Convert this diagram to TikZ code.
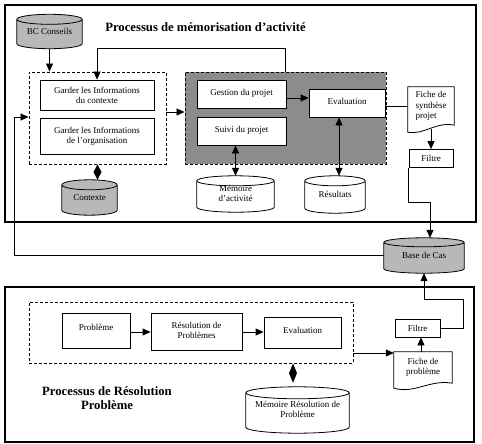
\documentclass[tikz,border=0pt]{standalone}
\usepackage{fontspec}
\setmainfont{Liberation Serif}
\usetikzlibrary{arrows.meta,calc,backgrounds}
\definecolor{boxgrey}{gray}{0.55}
\definecolor{cylgrey}{gray}{0.72}
\newcommand\smallfnt{\fontsize{9}{10}\selectfont}
\newcommand\titlefnt{\fontsize{12.7}{14}\selectfont\bfseries}
\newcommand\ml[1]{\begin{tabular}{@{}c@{}}#1\end{tabular}}
\newcommand\mll[1]{\begin{tabular}{@{}l@{}}#1\end{tabular}}
\newcommand\drawcyl[3]{%
  \draw[line width=0.8pt, fill=#2] let \p1=(#1.north west), \p2=(#1.south east), \n1={(\x2-\x1)/2} in
   (\x1,\y1-#3) -- (\x1,\y2+#3) arc[start angle=180,end angle=360,x radius=\n1,y radius=#3]
   -- (\x2,\y1-#3) arc[start angle=0,end angle=180,x radius=\n1,y radius=#3] -- cycle
   (\x1,\y1-#3) arc[start angle=180,end angle=360,x radius=\n1,y radius=#3];
}
\newcommand\drawdoc[3]{%
  \draw[line width=0.8pt] (#1.south east) -- (#1.north east) -- (#1.north west) -- ([yshift=-#2]#1.south west)
   .. controls ($(#1.south west)!0.35!(#1.south east)+(0pt,-#3)$) and ($(#1.south west)!0.62!(#1.south east)+(0pt,4pt)$) .. (#1.south east) -- cycle;
}
\begin{document}
\begin{tikzpicture}[x=1pt,y=-1pt,
  sz/.style 2 args={minimum width=#1pt, minimum height=#2pt},
  frame/.style={draw, line width=2.4pt, inner sep=0pt},
  box/.style={draw, line width=0.8pt, fill=white, inner sep=1pt, font=\smallfnt, align=center},
  dbox/.style={draw, line width=0.9pt, dash pattern=on 3pt off 2pt, inner sep=0pt},
  gbox/.style={dbox, fill=boxgrey},
  cyl/.style={inner sep=0pt, font=\smallfnt, align=center},
  doc/.style={inner sep=0pt, font=\smallfnt, align=center},
  title/.style={font=\titlefnt, align=center},
  line/.style={line width=0.8pt},
  arr/.style={line, -{Triangle[length=8pt,width=7pt]}},
  darr/.style={line, {Triangle[length=8pt,width=7pt]}-{Triangle[length=8pt,width=7pt]}}
]
\useasboundingbox (0,0) rectangle (482,444);
% frames
\node[frame, sz={471}{217}] (topf) at (240.5,113.5) {};
\node[frame, sz={469}{155}] (botf) at (239.5,364.5) {};
\node[title] (t1) at (205.5,27) {Processus de mémorisation d’activité};
% top part
\node[cyl, sz={65}{34}] (bc) at (49.5,31.5) {\raisebox{-5pt}{BC Conseils}};
\node[dbox, sz={137}{92}] (d1) at (97.5,118) {};
\node[box, sz={114}{30}] (g1) at (97,95) {Garder les Informations\\du contexte};
\node[box, sz={114}{36}] (g2) at (97,136) {Garder les Informations\\de l’organisation};
\node[cyl, sz={55}{35}] (ctx) at (89.5,197.5) {\raisebox{-3pt}{Contexte}};
\node[gbox, sz={201}{92}] (gb) at (285.5,118) {};
\node[box, sz={89}{28}] (gp) at (241.5,94) {\raisebox{3pt}{Gestion du projet}};
\node[box, sz={89}{28}] (sp) at (241.5,131) {\raisebox{3pt}{Suivi du projet}};
\node[box, sz={76}{28}] (ev) at (347,103) {\raisebox{3pt}{Evaluation}};
\node[cyl, sz={77}{36}] (ma) at (235.5,194) {\raisebox{-1.5pt}{\ml{Mémoire\\d’activité}}};
\node[cyl, sz={60}{37}] (res) at (335,194.5) {Résultats};
\node[doc, sz={46}{38}] (fs) at (431,106) {\mll{Fiche de\\synthèse\\projet}};
\node[box, sz={44}{18}] (f1) at (431,158.5) {Filtre};
\node[cyl, sz={80}{35}] (bdc) at (424,255.5) {\raisebox{-1pt}{Base de Cas}};
% bottom part
\node[dbox, sz={324}{61}] (d2) at (191,332.5) {};
\node[box, sz={68}{35}] (pb) at (96,330.5) {\raisebox{7pt}{Problème}};
\node[box, sz={91}{37}] (rp) at (196.5,331.5) {\raisebox{2pt}{\ml{Résolution de\\Problèmes}}};
\node[box, sz={77}{31}] (ev2) at (302.5,332.5) {\raisebox{5pt}{Evaluation}};
\node[doc, sz={58}{31}] (fp) at (423,367.5) {\ml{Fiche de\\problème}};
\node[box, sz={45}{18}] (f2) at (417.5,328) {Filtre};
\node[cyl, sz={103}{46}] (mrp) at (297.5,410) {\raisebox{-6pt}{\ml{Mémoire Résolution de\\Problème}}};
\node[title] (t2) at (107,398) {Processus de Résolution\\Problème};
% shapes
\begin{scope}[on background layer]
\drawcyl{bc}{cylgrey}{5pt}
\drawcyl{ctx}{cylgrey}{5pt}
\drawcyl{ma}{white}{5pt}
\drawcyl{res}{white}{5pt}
\drawcyl{bdc}{cylgrey}{4.5pt}
\drawcyl{mrp}{white}{6pt}
\end{scope}
\drawdoc{fs}{7pt}{10pt}
\drawdoc{fp}{5pt}{11pt}
% connectors top
\draw[arr] (bc.south) -- (bc.south |- d1.north);
\draw[arr] (gb.north) -- ++(0,-23) -| (g1.north);
\draw[arr] ([yshift=6pt]d1.east) -- ([yshift=6pt]d1.east -| gb.west);
\draw[arr] ([yshift=-4pt]gp.east) -- ([yshift=-4pt]gp.east -| ev.west);
\draw[darr] (ma.north |- sp.south) -- (ma.north);
\draw[darr] ([xshift=-8pt]ev.south) -- ([xshift=-8pt]ev.south |- res.north);
\draw[line] ([yshift=12pt]gb.east) -- ([yshift=12pt]gb.east -| fs.west);
\draw[arr] ([yshift=-4pt]fs.south) -- (f1.north);
\coordinate (k1) at (430,202);
\draw[arr] (f1.south west) |- (k1) -- (k1 |- bdc.north);
\coordinate (k2) at (14,117);
\draw[arr] (bdc.west) -| (k2) -- (k2 -| d1.west);
\fill (d1.south) -- ($(d1.south)!0.5!(d1.south |- ctx.north)+(4pt,0pt)$) -- (d1.south |- ctx.north) -- ($(d1.south)!0.5!(d1.south |- ctx.north)+(-4pt,0pt)$) -- cycle;
% connectors bottom
\draw[arr] ([yshift=-1.5pt]pb.east) -- ([yshift=-1.5pt]pb.east -| rp.west);
\draw[arr] ([yshift=-0.5pt]rp.east) -- ([yshift=-0.5pt]rp.east -| ev2.west);
\draw[arr] ([yshift=-20.5pt]d2.east) -- ([yshift=-20.5pt]d2.east -| fp.west);
\draw[arr] ([xshift=-2pt]fp.north) -- ([xshift=-2pt]fp.north |- f2.south);
\coordinate (k3) at (463,299);
\draw[arr] (f2.east) -| (k3) -| (bdc.south);
\coordinate (m1) at ([xshift=-4.5pt]mrp.north |- d2.south);
\coordinate (m2) at ([xshift=-4.5pt,yshift=4pt]mrp.north);
\fill (m1) -- ($(m1)!0.5!(m2)+(4pt,0pt)$) -- (m2) -- ($(m1)!0.5!(m2)+(-4pt,0pt)$) -- cycle;
\end{tikzpicture}
\end{document}
